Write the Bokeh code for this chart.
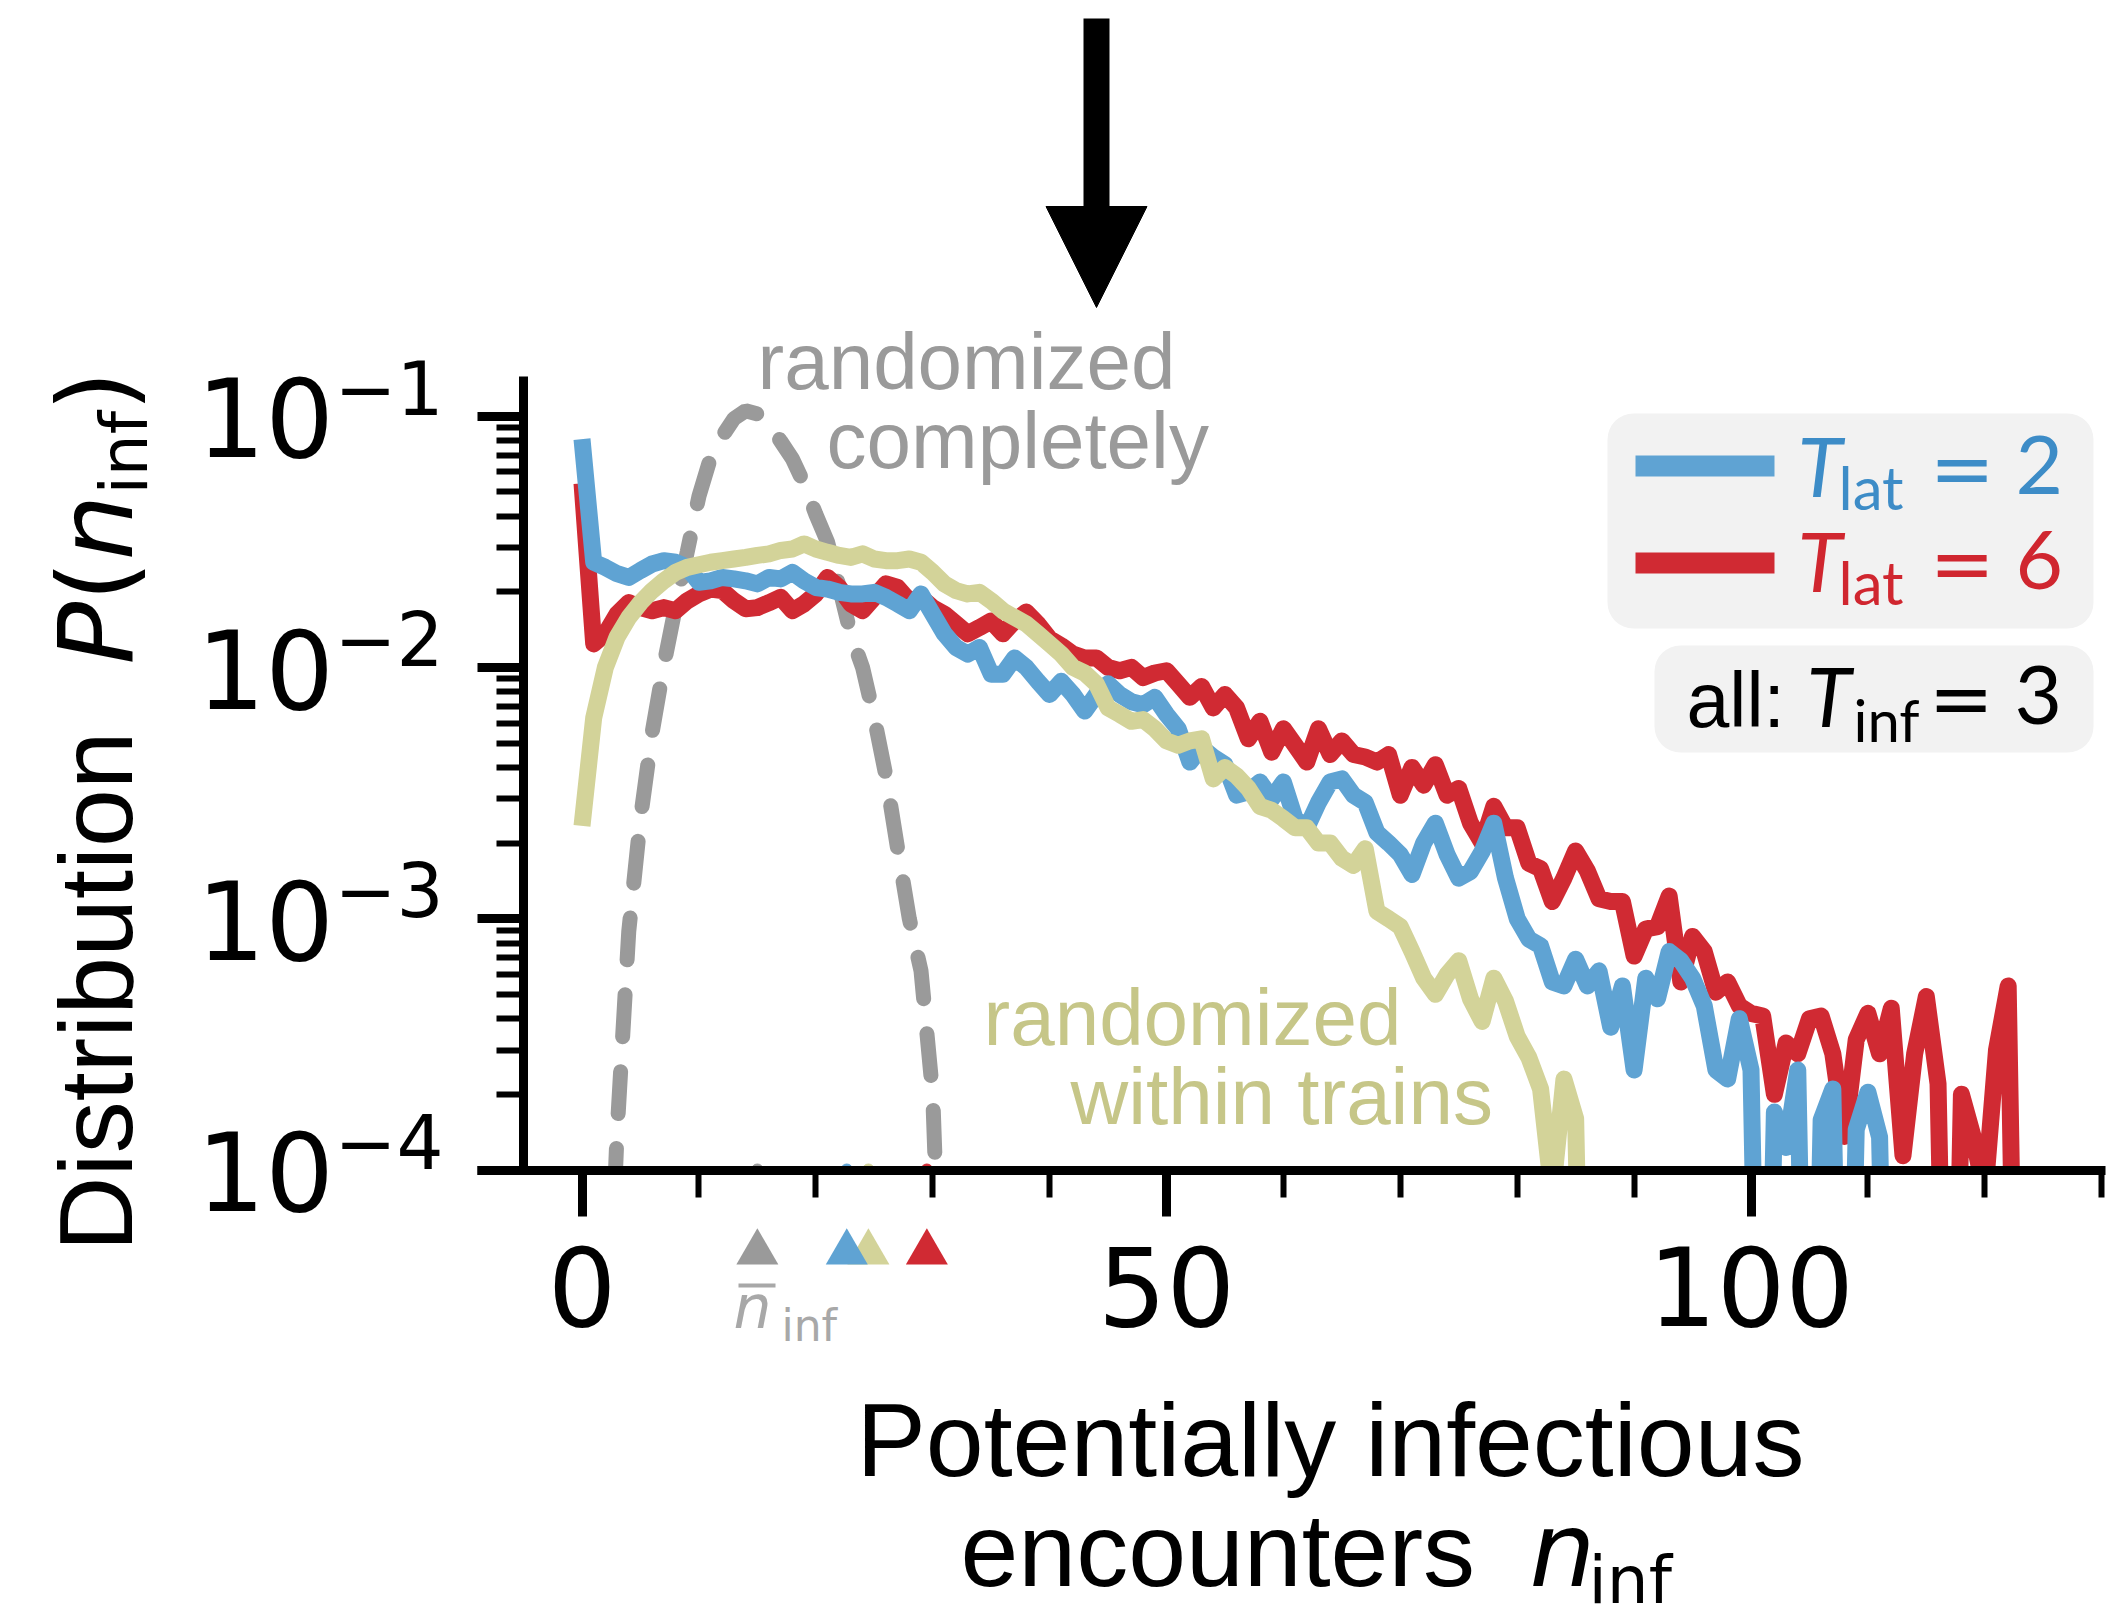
import math
from bokeh.plotting import figure
from bokeh.models import (Label, BoxAnnotation, Arrow, NormalHead, FixedTicker,
                          Range1d, LinearAxis, LogAxis, LogScale)
from bokeh.embed import file_html
from bokeh.resources import INLINE

# ---------------- data ----------------
blue_x = list(range(0, 113))
blue_p = [0.081, 0.0262, 0.0250, 0.0236, 0.0228, 0.0243, 0.0258, 0.0266, 0.0262, 0.0250,
          0.0218, 0.0221, 0.0228, 0.0225, 0.0221, 0.0215, 0.0228, 0.0225, 0.0239, 0.0221,
          0.0208, 0.0205, 0.0199, 0.0196, 0.0196, 0.0199, 0.0190, 0.0179, 0.0168, 0.0196,
          0.0163, 0.0136, 0.0120, 0.0113, 0.0120, 0.0094, 0.0094, 0.0109, 0.0100, 0.0088,
          0.0078, 0.0088, 0.0078, 0.0067, 0.0078, 0.0086, 0.0078, 0.0073, 0.0071, 0.0076,
          0.0065, 0.0057, 0.0042, 0.0048, 0.0044, 0.0041, 0.0031, 0.0032, 0.0035, 0.0030,
          0.0035, 0.0025, 0.0023, 0.0029, 0.0035, 0.0036, 0.0031, 0.0029, 0.0022, 0.0020,
          0.0018, 0.0015, 0.0020, 0.0024, 0.0018, 0.00145, 0.00154, 0.00185, 0.0024, 0.00145,
          0.0010, 0.00083, 0.00078, 0.00056, 0.00054, 0.00069, 0.00054, 0.00062, 0.00037, 0.00054,
          0.00025, 0.00058, 0.00048, 0.00074, 0.00068, 0.00058, 0.00045, 0.00025, 0.00023, 0.00040,
          0.00025, 1e-6, 0.00017, 0.000123, 0.00025, 1e-6, 0.000158, 0.00021, 1e-6, 0.000145,
          0.000204, 0.000135, 1e-6]

red_x = list(range(0, 124))
red_p = [0.054, 0.0124, 0.0136, 0.0163, 0.0181, 0.0173, 0.0168, 0.0173, 0.0168, 0.0184,
         0.0196, 0.0205, 0.0202, 0.0184, 0.0171, 0.0173, 0.0181, 0.0190, 0.0168, 0.0179,
         0.0196, 0.0228, 0.0208, 0.0179, 0.0168, 0.0190, 0.0215, 0.0208, 0.0184, 0.0190,
         0.0173, 0.0163, 0.0149, 0.0136, 0.0144, 0.0153, 0.0136, 0.0153, 0.0166, 0.0149,
         0.0130, 0.0122, 0.0113, 0.0109, 0.0109, 0.0100, 0.0097, 0.0100, 0.0091, 0.0095,
         0.0097, 0.0086, 0.0076, 0.0084, 0.0069, 0.0078, 0.0069, 0.0052, 0.0061, 0.0046,
         0.0057, 0.0049, 0.0042, 0.0057, 0.0045, 0.0051, 0.0045, 0.0044, 0.0042, 0.0045,
         0.0031, 0.0040, 0.0034, 0.0041, 0.0031, 0.0033, 0.0024, 0.0020, 0.0028, 0.0023,
         0.0023, 0.00166, 0.00158, 0.00117, 0.00145, 0.00186, 0.00155, 0.0012, 0.00117, 0.00117,
         0.00071, 0.00091, 0.00093, 0.00123, 0.00056, 0.00085, 0.00074, 0.00051, 0.00056, 0.00045,
         0.00042, 0.00041, 0.00020, 0.00032, 0.00029, 0.00040, 0.00041, 0.00029, 0.000136, 0.00033,
         0.00042, 0.00029, 0.00044, 0.000114, 0.00029, 0.00049, 0.00022, 1e-6, 0.00020, 0.000136,
         0.00008, 0.00030, 0.00054, 1e-6]

khaki_x = list(range(0, 87))
khaki_p = [0.00234, 0.0063, 0.0100, 0.0132, 0.0158, 0.0181, 0.0202, 0.0221, 0.0239, 0.0250,
           0.0256, 0.0262, 0.0266, 0.0270, 0.0274, 0.0279, 0.0283, 0.0292, 0.0296, 0.0310,
           0.0296, 0.0287, 0.0279, 0.0274, 0.0283, 0.0270, 0.0266, 0.0266, 0.0270, 0.0262,
           0.0239, 0.0215, 0.0202, 0.0196, 0.0199, 0.0184, 0.0168, 0.0158, 0.0149, 0.0136,
           0.0124, 0.0113, 0.0100, 0.0095, 0.0086, 0.0069, 0.0065, 0.0061, 0.0062, 0.0057,
           0.0051, 0.0049, 0.0051, 0.0052, 0.0036, 0.0040, 0.0037, 0.0033, 0.0028, 0.0027,
           0.0025, 0.0023, 0.0023, 0.0020, 0.0020, 0.00174, 0.00163, 0.0019, 0.00107, 0.0010,
           0.00093, 0.00074, 0.00058, 0.0005, 0.0006, 0.00068, 0.00048, 0.00039, 0.00058, 0.00047,
           0.00034, 0.00028, 0.00021, 0.00008, 0.00023, 0.00016, 1e-6]

gray_x = list(range(2, 32))
gray_p = [1e-5, 0.000141, 0.00089, 0.0025, 0.0055, 0.0102, 0.0174, 0.0288, 0.0479, 0.0684,
          0.0832, 0.0977, 0.105, 0.102, 0.0933, 0.0794, 0.0676, 0.0537, 0.0407, 0.0316,
          0.0209, 0.0135, 0.0100, 0.0063, 0.0037, 0.0019, 0.0010, 0.00062, 0.0002, 1e-5]

# mean number of potentially infectious encounters (triangles)
mean_names = ["randomized completely", "T_lat = 2", "randomized within trains", "T_lat = 6"]
mean_vals = [15.0, 22.65, 24.5, 29.5]

x_ticks = [0, 50, 100]
x_minor_ticks = list(range(0, 131, 10))
y_ticks = [1e-4, 1e-3, 1e-2, 1e-1]
y_tick_exponents = ["\u22124", "\u22123", "\u22122", "\u22121"]
y_minor_ticks = [m * d for d in y_ticks[:3] for m in range(2, 10)]

# ---------------- styling ----------------
BLUE, RED, KHAKI, GRAY = "#5fa3d3", "#d02a33", "#d3d399", "#9a9a9a"
BLUE_T, RED_T, KHAKI_T = "#3d8cc7", "#d0262f", "#c6c688"
mean_cols = [GRAY, BLUE, KHAKI, RED]
SANS, DJ, MF = "Liberation Sans", "DejaVu Sans", "Lato"

# pixel calibration of the reference (layout only)
X0, KX = 581.5, 11.69      # px of n=0, px per unit
Y4, KY = 1169.5, 251.3     # px of 1e-4, px per decade


def X(px):
    return (px - X0) / KX


def Y(py):
    return 10 ** (-4 + (Y4 - py) / KY)


def px_of_y(v):
    return Y4 - (math.log10(v) + 4) * KY


W, H = 2124, 1611
FR, FT = 2114, 8          # frame right / top in px (frame left = 0, bottom = H)

p = figure(width=W, height=H, y_axis_type="log", x_axis_location=None, y_axis_location=None,
           x_range=Range1d(X(0), X(FR)), y_range=Range1d(Y(H), Y(FT)),
           output_backend="svg", toolbar_location=None,
           min_border_left=0, min_border_right=W - FR, min_border_top=FT, min_border_bottom=0)
p.y_scale = LogScale()
p.outline_line_color = None
p.background_fill_color = "white"
p.border_fill_color = "white"
p.grid.visible = False
p.xgrid.grid_line_color = None
p.ygrid.grid_line_color = None


def spine_axis(cls, side, loc, bounds, ticks, length, width, line):
    ax = cls(fixed_location=loc, bounds=bounds, axis_label=None,
             ticker=FixedTicker(ticks=[], minor_ticks=ticks),
             major_label_standoff=0, major_label_text_font_size="0px")
    ax.axis_line_width = 9
    ax.axis_line_color = "black" if line else None
    ax.major_tick_line_color = None
    ax.minor_tick_line_color = "black"
    ax.minor_tick_line_width = width
    ax.minor_tick_in, ax.minor_tick_out = length, 0
    p.add_layout(ax, side)


XB = (X(476.7), X(2105))
YB = (1e-4, Y(376))
YLOC = X(523.3)
# x axis: spine at 1e-4, ticks pointing down
spine_axis(LinearAxis, "above", 1e-4, XB, x_minor_ticks, 27, 6, True)
spine_axis(LinearAxis, "above", 1e-4, XB, x_ticks, 46, 9, False)
# y axis: spine at x = -5, ticks pointing left
spine_axis(LogAxis, "right", YLOC, YB, y_minor_ticks, 27, 6, True)
spine_axis(LogAxis, "right", YLOC, YB, y_ticks, 46, 9, False)

# curves
p.line(gray_x, gray_p, line_color=GRAY, line_width=15, line_dash="42 35", line_cap="round")
p.line(red_x, red_p, line_color=RED, line_width=17, line_join="round")
p.line(blue_x, blue_p, line_color=BLUE, line_width=17, line_join="round")
p.line(khaki_x, khaki_p, line_color=KHAKI, line_width=17, line_join="round")

# small dots at the axis
p.scatter(mean_vals, [1e-4] * 4, marker="circle", size=12, color=mean_cols)

# white mask below the x axis (clips the curves at 1e-4)
p.quad(left=X(-50), right=X(W + 50), bottom=1e-12, top=1e-4, fill_color="white", line_color=None)

# mean triangles (khaki behind blue)
order = [0, 2, 1, 3]
p.scatter([mean_vals[i] for i in order], [Y(1252)] * 4, marker="triangle", size=42,
          color=[mean_cols[i] for i in order], line_color=None)

MID = {MF: 0.38}


def lab(px, py, text, size, color="black", font=SANS, style="normal",
        align="left", angle=0.0):
    c = MID.get(font, 0.35) * size
    if angle == 0.0:
        ax_, ay_ = px, py - c
    else:
        ax_, ay_ = px - c, py
    p.add_layout(Label(x=X(ax_), y=Y(ay_), text=text, text_font=font,
                       text_font_size=f"{size}px", text_color=color,
                       text_font_style=style, text_align=align,
                       text_baseline="alphabetic", angle=angle))


# tick labels
for v in x_ticks:
    lab(X0 + v * KX, 1323, str(v), 108, font=DJ, align="center")
for v, e in zip(y_ticks, y_tick_exponents):
    ty = px_of_y(v)
    lab(196, ty + 39, "10", 108, font=DJ)
    lab(334, ty - 3, e, 74, font=DJ)

# n-bar label under the grey triangle
p.add_layout(BoxAnnotation(left=X(738), right=X(775), top=Y(1283), bottom=Y(1287),
                           fill_color="#a8a8a8", fill_alpha=1, line_color=None))
lab(733, 1327, "n", 60, "#a8a8a8", DJ, "italic")
lab(781, 1340, "inf", 44, "#a8a8a8", DJ)

# arrow on top
p.add_layout(Arrow(end=NormalHead(size=101, fill_color="black", line_color="black", line_width=1),
                   x_start=X(1096), y_start=Y(18), x_end=X(1096), y_end=Y(307),
                   line_width=26, line_color="black"))

# curve annotations
lab(757, 389, "randomized", 80, GRAY)
lab(826, 468, "completely", 80, GRAY)
lab(983, 1045, "randomized", 80, KHAKI_T)
lab(1070, 1124, "within trains", 80, KHAKI_T)

# legend boxes
p.add_layout(BoxAnnotation(left=X(1607), right=X(2093), top=Y(413), bottom=Y(628),
                           fill_color="#f2f2f2", fill_alpha=1, line_color=None,
                           border_radius=26, level="underlay"))
p.add_layout(BoxAnnotation(left=X(1654), right=X(2093), top=Y(645), bottom=Y(752),
                           fill_color="#f2f2f2", fill_alpha=1, line_color=None,
                           border_radius=26, level="underlay"))
p.add_layout(BoxAnnotation(left=X(1635), right=X(1774), top=Y(455), bottom=Y(476),
                           fill_color=BLUE, fill_alpha=1, line_color=None))
p.add_layout(BoxAnnotation(left=X(1635), right=X(1774), top=Y(552), bottom=Y(573),
                           fill_color=RED, fill_alpha=1, line_color=None))

for base, col, num in [(496, BLUE_T, "2"), (591, RED_T, "6")]:
    lab(1797, base, "T", 82, col, MF, "italic")
    lab(1838, base + 13, "lat", 60, col, MF)
    lab(1929, base, "=", 78, col, DJ)
    lab(2015, base, num, 82, col, MF)
lab(1686, 726, "all:", 77, "black")
lab(1806, 726, "T", 82, "black", MF, "italic")
lab(1853, 741, "inf", 58, "black", MF)
lab(1928, 726, "=", 78, "black", DJ)
lab(2014, 726, "3", 82, "black", MF)

# y-axis label (rotated, reads bottom to top)
R = math.pi / 2
lab(132, 1251, "Distribution", 104, angle=R)
lab(132, 664, "P", 104, font=DJ, style="italic", angle=R)
lab(132, 601, "(", 104, font=DJ, angle=R)
lab(132, 560, "n", 104, font=DJ, style="italic", angle=R)
lab(147, 494, "inf", 66, font=DJ, angle=R)
lab(132, 411, ")", 104, font=DJ, angle=R)

# x-axis label
lab(1330, 1476, "Potentially infectious", 104, align="center")
lab(960, 1586, "encounters", 104)
lab(1529, 1586, "n", 104, font=DJ, style="italic")
lab(1588, 1603, "inf", 66, font=DJ)

open("out.html", "w").write(file_html(p, INLINE, title="Distribution of potentially infectious encounters"))
